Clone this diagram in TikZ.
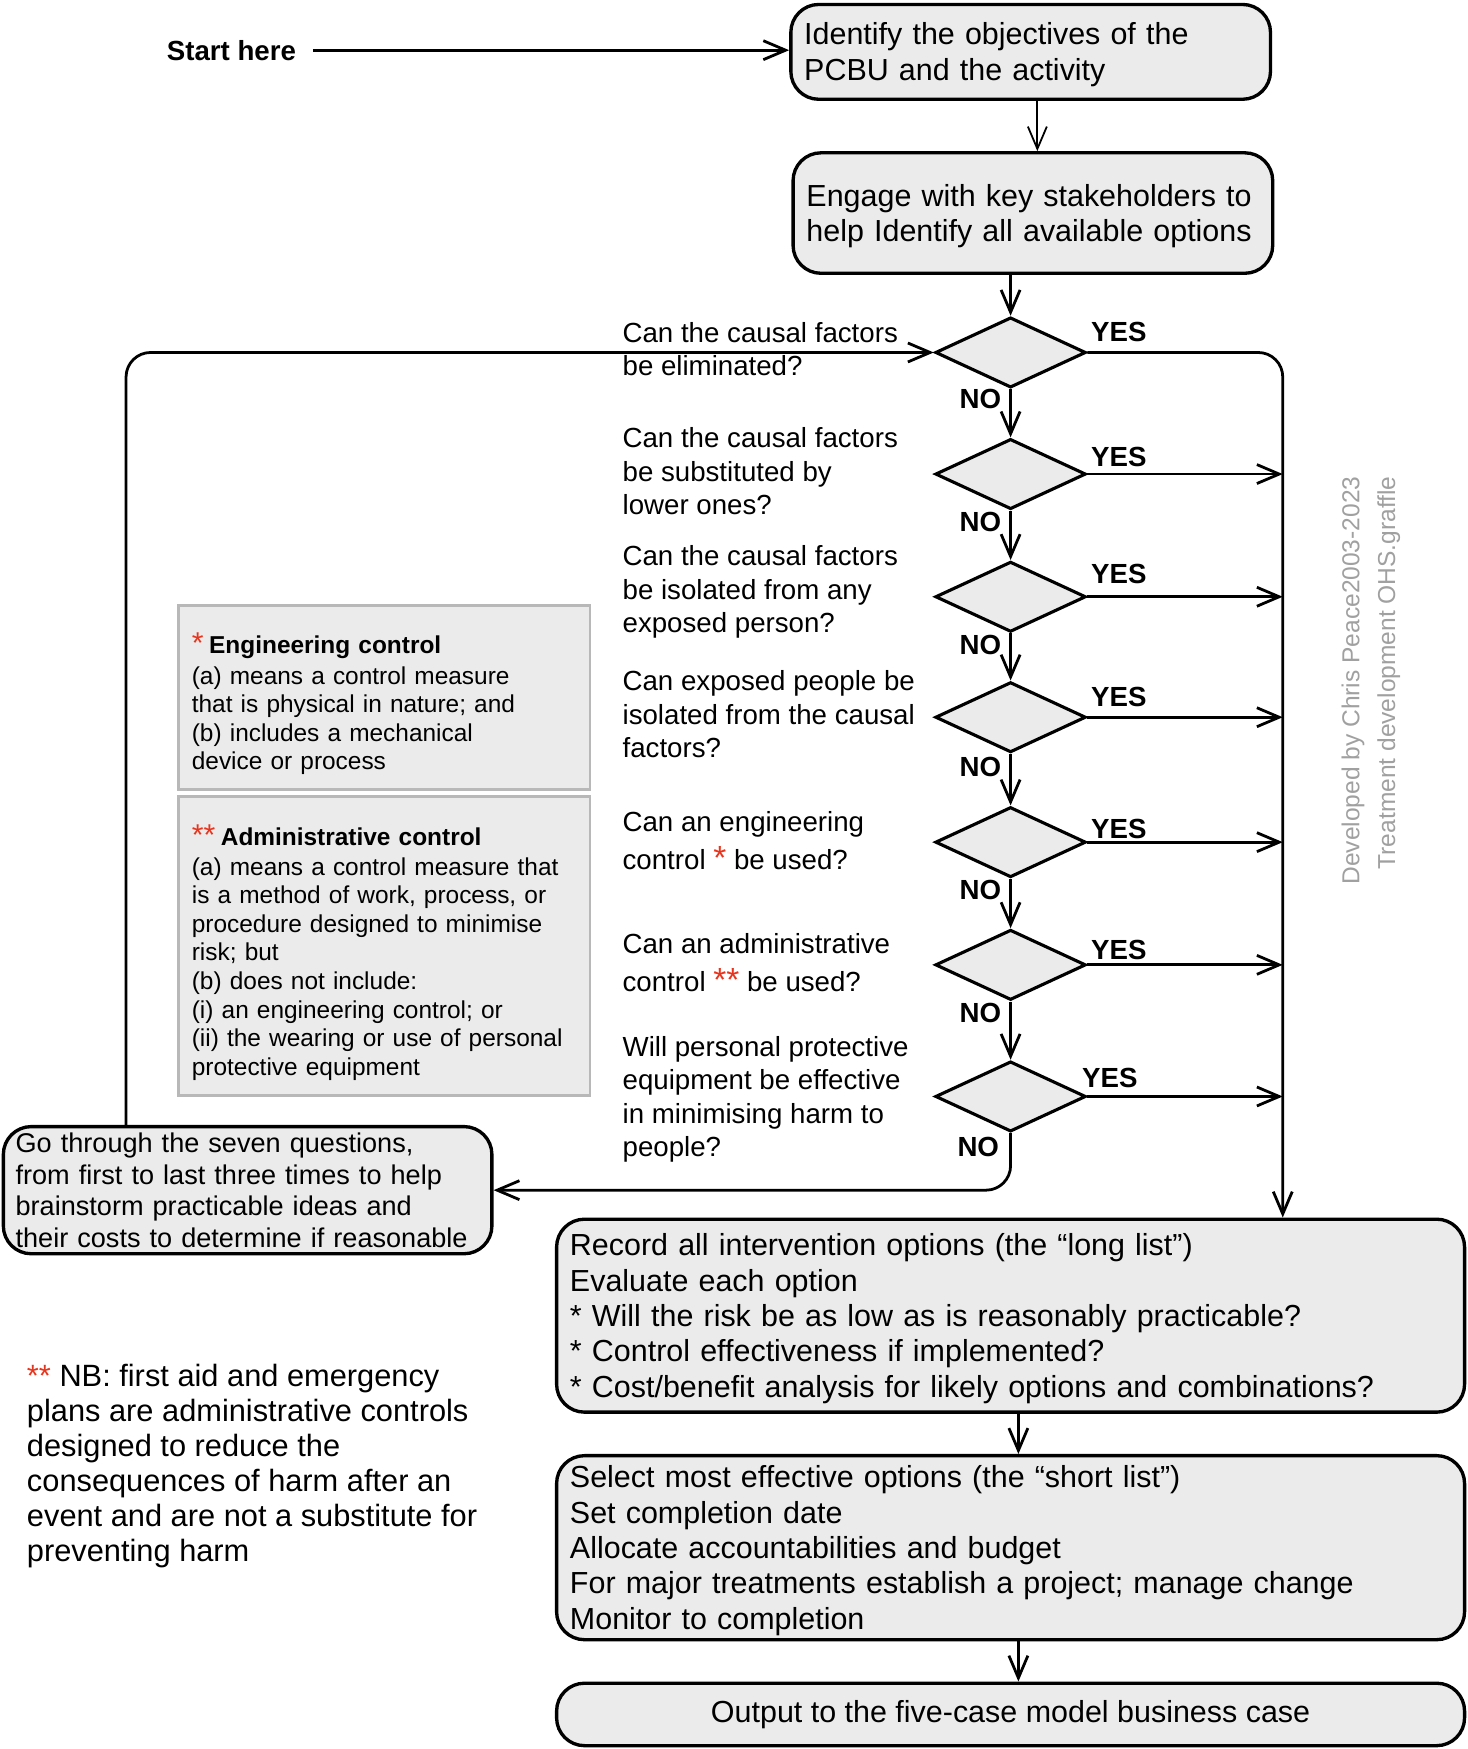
\documentclass[tikz,border=0pt]{standalone}
\usepackage{fontspec}
\setmainfont{Liberation Sans}
\usetikzlibrary{shapes.geometric,arrows.meta}
\definecolor{boxfill}{HTML}{EBEBEB}
\definecolor{noteline}{HTML}{B8B8B8}
\definecolor{astred}{HTML}{E8341C}
\definecolor{wmgray}{HTML}{A0A0A0}
\newcommand\fsmain{\fontsize{27.3}{31.7}\selectfont}
\newcommand\fsq{\fontsize{24.8}{30}\selectfont}
\newcommand\fssmall{\fontsize{21.9}{25.6}\selectfont}
\newcommand\fsgo{\fontsize{24.3}{28.4}\selectfont}
\newcommand\fsnb{\fontsize{27.6}{31.4}\selectfont}
\newcommand\fslab{\fontsize{24.8}{28}\selectfont\bfseries}
\newcommand\fswm{\fontsize{22}{32}\selectfont}
\begin{document}
\begin{tikzpicture}[x=1pt,y=-1pt,
  box/.style={draw, line width=3pt, fill=boxfill, rounded corners=25pt, align=left, font=\fsmain, inner xsep=12pt, inner ysep=0pt},
  note/.style={draw=noteline, line width=2.5pt, fill=boxfill, align=left, font=\fssmall, inner xsep=12pt, inner ysep=0pt},
  dec/.style={diamond, draw, line width=2.8pt, fill=boxfill, minimum width=135pt, minimum height=63pt, inner sep=0pt, aspect=2.14},
  qtext/.style={font=\fsq, align=left, anchor=west, inner sep=0pt},
  lab/.style={font=\fslab, inner sep=0pt},
  conn/.style={line width=2.5pt, -{Straight Barb[length=20pt,width=17pt]}},
]
\useasboundingbox (0,0) rectangle (1316,1568);

% helper coordinates
\coordinate (rcx) at (1150,0);
\coordinate (lpx) at (113,0);
\coordinate (c930) at (930,0);
\coordinate (c913) at (913,0);

% start
\node[font=\fslab, inner sep=0pt] (start) at (207.5,45) {Start here};

% top boxes
\node[box, minimum width=430, minimum height=85, text width=406] (b1) at (924,46.5)
  {\rule{0pt}{25pt}Identify the objectives of the\\PCBU and the activity};
\node[box, minimum width=430, minimum height=108, text width=406] (b2) at (926,191)
  {\rule{0pt}{25pt}Engage with key stakeholders to\\help Identify all available options};

% decisions
\node[dec] (d1) at (906,316) {};
\node[dec] (d2) at (906,425) {};
\node[dec] (d3) at (906,535) {};
\node[dec] (d4) at (906,643) {};
\node[dec] (d5) at (906,755) {};
\node[dec] (d6) at (906,865) {};
\node[dec] (d7) at (906,983) {};

% questions
\node[qtext] (q1) at (558,313) {Can the causal factors\\be eliminated?};
\node[qtext] (q2) at (558,422.5) {Can the causal factors\\be substituted by\\lower ones?};
\node[qtext] (q3) at (558,531) {Can the causal factors\\be isolated from any\\exposed person?};
\node[qtext] (q4) at (558,640.5) {Can exposed people be\\isolated from the causal\\factors?};
\node[qtext] (q5) at (558,754) {Can an engineering\\[4pt]control {\color{astred}\fontsize{30}{30}\selectfont*} be used?};
\node[qtext] (q6) at (558,863) {Can an administrative\\[4pt]control {\color{astred}\fontsize{30}{30}\selectfont**} be used?};
\node[qtext] (q7) at (558,985.5) {Will personal protective\\equipment be effective\\in minimising harm to\\people?};

% YES / NO labels
\node[lab] (y1) at (1003,298) {YES};
\node[lab] (y2) at (1003,410) {YES};
\node[lab] (y3) at (1003,515) {YES};
\node[lab] (y4) at (1003,625) {YES};
\node[lab] (y5) at (1003,743) {YES};
\node[lab] (y6) at (1003,852) {YES};
\node[lab] (y7) at (995,966) {YES};
\node[lab] (n1) at (879,358) {NO};
\node[lab] (n2) at (879,468) {NO};
\node[lab] (n3) at (879,578) {NO};
\node[lab] (n4) at (879,688) {NO};
\node[lab] (n5) at (879,798) {NO};
\node[lab] (n6) at (879,908) {NO};
\node[lab] (n7) at (877,1028) {NO};

% definition notes
\node[note, minimum width=369, minimum height=165, text width=345] (eng) at (344.5,625.5)
  {\rule{0pt}{30pt}{\color{astred}\fontsize{27}{27}\selectfont*}\hspace{5pt}\textbf{Engineering control}\\[1.5pt]
   (a) means a control measure\\that is physical in nature; and\\(b) includes a mechanical\\device or process};
\node[note, minimum width=369, minimum height=268, text width=345] (adm) at (344.5,848)
  {\rule{0pt}{30pt}{\color{astred}\fontsize{27}{27}\selectfont**}\hspace{5pt}\textbf{Administrative control}\\[1.5pt]
   (a) means a control measure that\\is a method of work, process, or\\procedure designed to minimise\\risk; but\\(b) does not include:\\(i) an engineering control; or\\(ii) the wearing or use of personal\\protective equipment};

% loop box
\node[box, font=\fsgo, inner xsep=11pt, minimum width=438, minimum height=114, text width=416] (go) at (222,1067)
  {Go through the seven questions,\\from first to last three times to help\\brainstorm practicable ideas and\\their costs to determine if reasonable};

% NB note
\node[font=\fsnb, align=left, anchor=west, inner sep=0pt] (nb) at (24,1314.5)
  {{\color{astred}**} NB: first aid and emergency\\plans are administrative controls\\designed to reduce the\\consequences of harm after an\\event and are not a substitute for\\preventing harm};

% lower boxes
\node[box, minimum width=814, minimum height=173, text width=790] (rec) at (906,1179.5)
  {\rule{0pt}{25pt}Record all intervention options (the “long list”)\\Evaluate each option\\{}* Will the risk be as low as is reasonably practicable?\\{}* Control effectiveness if implemented?\\{}* Cost/benefit analysis for likely options and combinations?};
\node[box, minimum width=814, minimum height=165, text width=790] (sel) at (906,1387.5)
  {\rule{0pt}{25pt}Select most effective options (the “short list”)\\Set completion date\\Allocate accountabilities and budget\\For major treatments establish a project; manage change\\Monitor to completion};
\node[box, align=center, minimum width=814, minimum height=56] (out) at (906,1537)
  {Output to the five-case model business case};

% watermark
\node[font=\fswm, text=wmgray, rotate=90, anchor=east, inner sep=0pt] (wm1) at (1213,427) {Developed by Chris Peace2003-2023};
\node[font=\fswm, text=wmgray, rotate=90, anchor=east, inner sep=0pt] (wm2) at (1245,427) {Treatment development OHS.graffle};

% connectors
\draw[conn, shorten <=15pt] (start.east) -- (start.east -| b1.west);
\draw[conn, line width=1.6pt] (b1.south -| c930) -- (b2.north -| c930);
\draw[conn] (b2.south -| d1.north) -- (d1.north);
\draw[conn] (d1.south) -- (d2.north);
\draw[conn] (d2.south) -- (d3.north);
\draw[conn] (d3.south) -- (d4.north);
\draw[conn] (d4.south) -- (d5.north);
\draw[conn] (d5.south) -- (d6.north);
\draw[conn] (d6.south) -- (d7.north);
\draw[conn, rounded corners=22pt] (d1.east) -| (rec.north -| rcx);
\draw[conn] (d2.east) -- (d2.east -| rcx);
\draw[conn] (d3.east) -- (d3.east -| rcx);
\draw[conn] (d4.east) -- (d4.east -| rcx);
\draw[conn] (d5.east) -- (d5.east -| rcx);
\draw[conn] (d6.east) -- (d6.east -| rcx);
\draw[conn] (d7.east) -- (d7.east -| rcx);
\draw[conn, rounded corners=22pt] (d7.south) |- (go.east);
\draw[conn, rounded corners=22pt] (go.north -| lpx) |- (d1.west);
\draw[conn] (rec.south -| c913) -- (sel.north -| c913);
\draw[conn] (sel.south -| c913) -- (out.north -| c913);
\end{tikzpicture}
\end{document}
